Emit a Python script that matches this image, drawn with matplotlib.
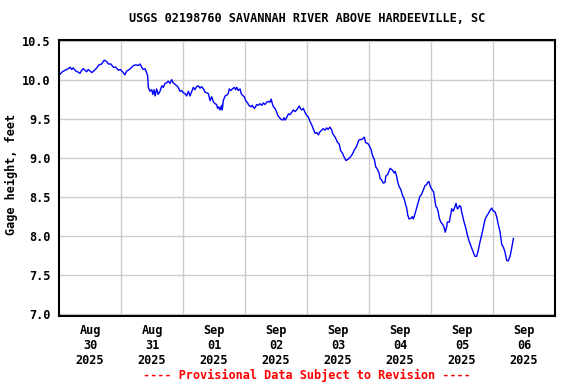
import matplotlib
matplotlib.use('Agg')
import matplotlib.pyplot as plt

# hours since 2025-08-30 00:00 and gage height (ft)
hours = [0.0, 0.4, 1.3, 2.3, 3.6, 4.3, 4.9, 5.5, 6.5, 7.2, 8.1, 8.8, 9.4, 10.7, 11.3,
         12.7, 13.7, 14.6, 15.5, 16.5, 17.5, 18.5, 19.1, 20.1, 21.0, 21.9, 23.0, 23.7,
         24.3, 24.9, 25.5, 26.2, 26.8, 27.9, 28.8, 29.8, 30.6, 31.4, 32.0, 32.6, 33.3,
         33.9, 34.3, 34.6, 35.2, 35.9, 36.3, 36.8, 37.2, 37.8, 38.4, 39.1, 39.8, 40.4,
         41.0, 41.7, 42.3, 43.0, 43.6, 44.2, 44.9, 45.6, 46.2, 46.8, 47.5, 48.1, 48.8,
         49.4, 50.1, 50.7, 51.4, 52.0, 52.6, 53.3, 53.9, 54.6, 55.2, 55.9, 56.5, 57.2,
         57.8, 58.1, 58.5, 59.1, 59.7, 60.4, 61.0, 61.4, 61.9, 62.3, 63.0, 63.2, 63.6,
         64.3, 64.9, 65.5, 65.9, 66.6, 67.1, 67.9, 68.4, 68.8, 69.4, 70.1, 70.5, 71.0,
         71.7, 72.3, 73.0, 73.5, 74.3, 74.8, 75.6, 76.1, 76.5, 77.1, 77.8, 78.5, 79.1,
         79.7, 80.4, 81.0, 81.7, 82.1, 82.6, 83.0, 83.6, 83.9, 84.3, 84.7, 85.2, 85.9,
         86.6, 87.1, 87.5, 88.1, 88.8, 89.4, 90.1, 90.7, 91.4, 92.0, 92.6, 93.0, 93.6,
         94.0, 94.6, 95.2, 95.9, 96.5, 97.2, 97.8, 98.4, 99.1, 99.8, 100.4, 101.0, 101.7,
         102.3, 103.0, 103.6, 104.2, 104.9, 105.6, 105.9, 106.5, 107.2, 107.7, 108.5,
         109.0, 109.8, 110.3, 111.1, 112.0, 112.9, 113.7, 114.2, 115.0, 115.5, 116.0,
         116.5, 117.2, 117.8, 118.2, 118.7, 119.5, 120.0, 120.8, 121.3, 122.1, 122.6,
         123.4, 123.9, 124.3, 124.9, 125.5, 126.2, 126.5, 127.2, 127.7, 128.2, 129.0,
         129.8, 130.1, 130.7, 131.1, 131.6, 132.4, 132.9, 133.7, 134.2, 134.6, 135.0,
         135.5, 136.3, 136.8, 137.1, 137.5, 138.1, 138.6, 139.1, 139.7, 140.4, 141.0,
         141.7, 142.3, 142.7, 143.2, 143.7, 144.5, 145.0, 145.3, 145.5, 145.9, 146.4,
         146.8, 147.2, 147.8, 148.5, 149.0, 149.5, 150.1, 150.3, 151.1, 151.6, 152.0,
         152.6, 153.3, 153.7, 154.2, 154.6, 155.0, 155.5, 155.9, 156.3, 156.8, 157.5,
         158.1, 158.8, 159.8, 160.4, 161.0, 161.7, 162.3, 163.0, 163.6, 164.2, 164.9,
         165.6, 166.2, 166.8, 167.5, 167.9, 168.8, 169.4, 170.1, 170.7, 171.4, 172.0,
         172.6, 173.3, 173.9, 174.6, 175.2, 175.9]
gage = [10.06, 10.08, 10.11, 10.13, 10.15, 10.17, 10.14, 10.16, 10.12, 10.11, 10.09, 10.13, 10.15, 10.11, 10.14,
        10.10, 10.13, 10.16, 10.20, 10.21, 10.26, 10.24, 10.21, 10.21, 10.17, 10.17, 10.13, 10.14,
        10.12, 10.10, 10.07, 10.12, 10.13, 10.16, 10.19, 10.20, 10.19, 10.21, 10.17, 10.14, 10.15,
        10.10, 10.06, 9.91, 9.86, 9.88, 9.82, 9.88, 9.80, 9.89, 9.82, 9.86, 9.93, 9.91,
        9.96, 9.97, 9.99, 9.96, 10.01, 9.97, 9.95, 9.93, 9.91, 9.86, 9.87, 9.84, 9.83,
        9.80, 9.86, 9.80, 9.86, 9.91, 9.88, 9.92, 9.93, 9.90, 9.92, 9.89, 9.85, 9.84,
        9.83, 9.79, 9.74, 9.79, 9.73, 9.70, 9.69, 9.64, 9.66, 9.62, 9.68, 9.62, 9.74,
        9.80, 9.81, 9.83, 9.89, 9.87, 9.89, 9.91, 9.88, 9.91, 9.87, 9.89, 9.83, 9.81,
        9.79, 9.74, 9.71, 9.68, 9.66, 9.68, 9.64, 9.66, 9.69, 9.68, 9.70, 9.68, 9.71,
        9.69, 9.72, 9.73, 9.72, 9.76, 9.70, 9.66, 9.64, 9.62, 9.59, 9.55, 9.53, 9.50,
        9.49, 9.52, 9.49, 9.52, 9.57, 9.56, 9.59, 9.62, 9.60, 9.62, 9.65, 9.67, 9.63,
        9.62, 9.64, 9.59, 9.55, 9.53, 9.47, 9.43, 9.38, 9.32, 9.33, 9.30, 9.34, 9.36,
        9.38, 9.36, 9.39, 9.37, 9.40, 9.36, 9.32, 9.29, 9.25, 9.21, 9.18,
        9.10, 9.06, 9.02, 8.97, 8.99, 9.02, 9.06, 9.10, 9.14, 9.18, 9.23,
        9.24, 9.24, 9.26, 9.27, 9.20, 9.19, 9.17, 9.11, 9.04, 8.98, 8.89,
        8.85, 8.81, 8.74, 8.72, 8.68, 8.69, 8.77, 8.79, 8.83, 8.87, 8.85,
        8.81, 8.83, 8.77, 8.70, 8.64, 8.59, 8.53, 8.47, 8.40, 8.36, 8.27,
        8.22, 8.23, 8.25, 8.22, 8.25, 8.32, 8.38, 8.44, 8.51, 8.54, 8.59,
        8.65, 8.66, 8.69, 8.70, 8.64, 8.59, 8.57, 8.50, 8.46, 8.38, 8.36,
        8.31, 8.23, 8.18, 8.15, 8.12, 8.05, 8.12, 8.18, 8.18, 8.27, 8.35,
        8.32, 8.38, 8.42, 8.35, 8.36, 8.39, 8.38, 8.31, 8.25, 8.18, 8.10,
        8.01, 7.93, 7.84, 7.79, 7.74, 7.74, 7.82, 7.93, 8.01, 8.10, 8.21,
        8.26, 8.29, 8.33, 8.36, 8.33, 8.31, 8.25, 8.14, 8.06, 7.89, 7.86,
        7.80, 7.69, 7.68, 7.74, 7.84, 7.97]

day_labels = ['Aug\n30\n2025', 'Aug\n31\n2025', 'Sep\n01\n2025', 'Sep\n02\n2025',
              'Sep\n03\n2025', 'Sep\n04\n2025', 'Sep\n05\n2025', 'Sep\n06\n2025']
y_ticks = [7.0, 7.5, 8.0, 8.5, 9.0, 9.5, 10.0, 10.5]

font = {'family': 'DejaVu Sans Mono', 'weight': 'bold', 'size': 8.55}

fig = plt.figure(figsize=(5.76, 3.84), dpi=100)
ax = fig.add_axes([59/576, 1 - 315.5/384, 496/576, 276/384])

ax.plot(hours, gage, color='#0000FF', lw=1.0)

ax.set_xlim(0, 192)
ax.set_ylim(6.98, 10.525)

ax.set_xticks([12 + 24 * i for i in range(len(day_labels))])
ax.set_xticklabels(day_labels, fontdict=font)
ax.set_xticks([24 * i for i in range(1, 8)], minor=True)
ax.set_yticks(y_ticks)
ax.set_yticklabels(['%.1f' % v for v in y_ticks], fontdict=font)
ax.tick_params(which='both', length=0)
ax.tick_params(axis='x', pad=6)
ax.tick_params(axis='y', pad=6)

ax.grid(which='minor', axis='x', color='#CCCCCC', lw=1.0)
ax.grid(which='major', axis='y', color='#CCCCCC', lw=1.0)
ax.set_axisbelow(True)
for s in ax.spines.values():
    s.set_linewidth(1.5)

ax.set_ylabel('Gage height, feet', fontdict=font)
ax.yaxis.set_label_coords(-0.082, 0.51)

fig.text(307/576, 1 - 19/384, 'USGS 02198760 SAVANNAH RIVER ABOVE HARDEEVILLE, SC',
         ha='center', va='center', **font)
fig.text(307/576, 1 - 375/384, '---- Provisional Data Subject to Revision ----',
         ha='center', va='center', color='red', **font)

fig.savefig('out.png', dpi=100)
